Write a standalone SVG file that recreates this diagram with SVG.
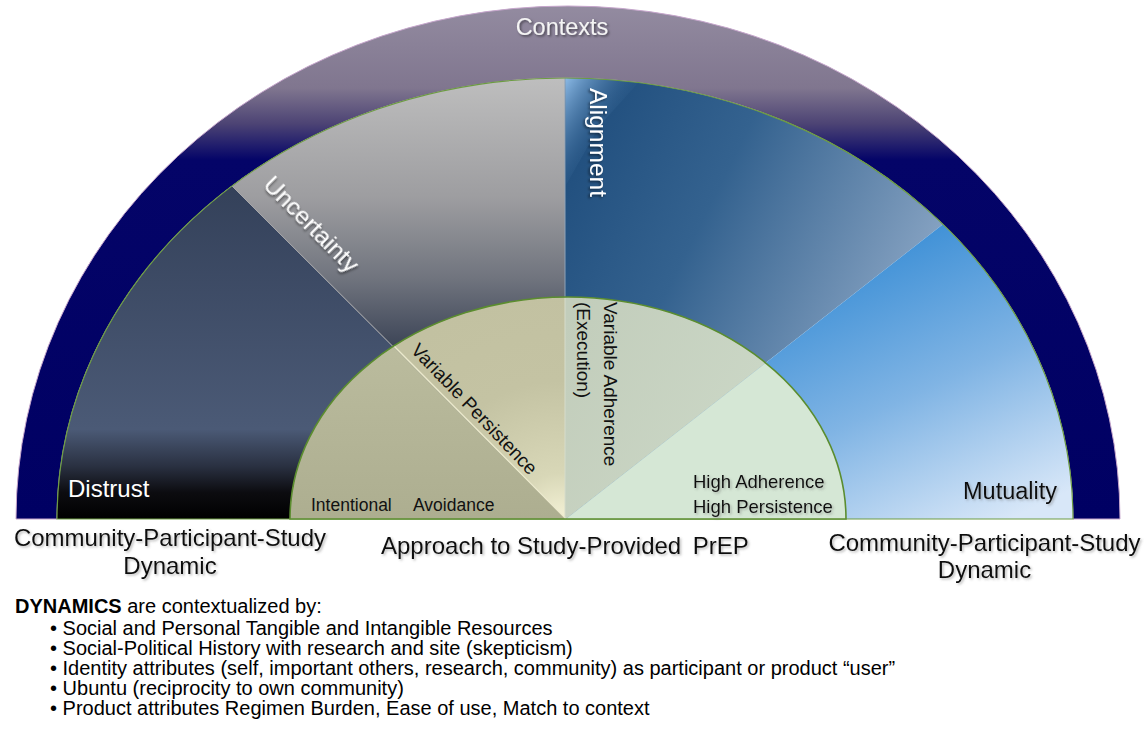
<svg xmlns="http://www.w3.org/2000/svg" width="1148" height="730" viewBox="0 0 1148 730">
<style>
  text { font-family: "Liberation Sans", Arial, Helvetica, sans-serif; }
  .w { fill: #ffffff; }
  .k { fill: #111111; }
  .lbl { font-size: 24px; fill: #111111; }
  .body { font-size: 20px; fill: #000000; }
  .inner { font-size: 19px; fill: #111111; }
</style>
<defs>
  <linearGradient id="gBand" gradientUnits="userSpaceOnUse" x1="0" y1="6" x2="0" y2="519">
    <stop offset="0" stop-color="#938ba0"/>
    <stop offset="0.16" stop-color="#80768f"/>
    <stop offset="0.23" stop-color="#4c4374"/>
    <stop offset="0.30" stop-color="#040468"/>
    <stop offset="1" stop-color="#000063"/>
  </linearGradient>
  <linearGradient id="gDistrust" gradientUnits="userSpaceOnUse" x1="0" y1="187" x2="0" y2="519">
    <stop offset="0" stop-color="#34415a"/>
    <stop offset="0.73" stop-color="#4b5a76"/>
    <stop offset="0.84" stop-color="#2a3142"/>
    <stop offset="0.92" stop-color="#0c0c10"/>
    <stop offset="1" stop-color="#000000"/>
  </linearGradient>
  <linearGradient id="gUncert" gradientUnits="userSpaceOnUse" x1="0" y1="78" x2="0" y2="345">
    <stop offset="0" stop-color="#bebebe"/>
    <stop offset="0.45" stop-color="#9d9da0"/>
    <stop offset="0.75" stop-color="#70747e"/>
    <stop offset="1" stop-color="#3e4658"/>
  </linearGradient>
  <linearGradient id="gAlign" gradientUnits="userSpaceOnUse" x1="580" y1="150" x2="940" y2="330">
    <stop offset="0" stop-color="#22507f"/>
    <stop offset="0.35" stop-color="#34628f"/>
    <stop offset="1" stop-color="#95aecb"/>
  </linearGradient>
  <linearGradient id="gHi" gradientUnits="userSpaceOnUse" x1="565" y1="80" x2="625" y2="120">
    <stop offset="0" stop-color="#8fbde9" stop-opacity="0.95"/>
    <stop offset="1" stop-color="#2a5a8a" stop-opacity="0"/>
  </linearGradient>
  <linearGradient id="gMutual" gradientUnits="userSpaceOnUse" x1="880" y1="240" x2="1010" y2="519">
    <stop offset="0" stop-color="#3c8fd6"/>
    <stop offset="0.5" stop-color="#80b4e4"/>
    <stop offset="1" stop-color="#d8e7f8"/>
  </linearGradient>
  <linearGradient id="gIA" gradientUnits="userSpaceOnUse" x1="0" y1="330" x2="0" y2="519">
    <stop offset="0" stop-color="#bcbd9f"/>
    <stop offset="1" stop-color="#adae90"/>
  </linearGradient>
  <radialGradient id="gVP" gradientUnits="userSpaceOnUse" cx="560" cy="519" r="230">
    <stop offset="0" stop-color="#f4f2d6"/>
    <stop offset="0.2" stop-color="#d8d7b7"/>
    <stop offset="0.6" stop-color="#c4c3a3"/>
    <stop offset="1" stop-color="#c2c1a1"/>
  </radialGradient>
  <linearGradient id="gVA" gradientUnits="userSpaceOnUse" x1="565" y1="320" x2="760" y2="420">
    <stop offset="0" stop-color="#c2cdbb"/>
    <stop offset="1" stop-color="#cbd7c6"/>
  </linearGradient>
  <clipPath id="clipI"><path d="M57,519 A508,441 0 0 1 1073,519 Z"/></clipPath>
  <clipPath id="clipS"><path d="M290,519 A278,222 0 0 1 846,519 Z"/></clipPath>
  <filter id="sh" x="-10%" y="-40%" width="130%" height="190%">
    <feDropShadow dx="1.5" dy="1.5" stdDeviation="1" flood-color="#000000" flood-opacity="0.5"/>
  </filter>
  <filter id="shl" x="-10%" y="-40%" width="130%" height="190%">
    <feDropShadow dx="1.5" dy="1.5" stdDeviation="1.2" flood-color="#666666" flood-opacity="0.45"/>
  </filter>
</defs>

<g id="contexts-band">
  <path d="M16,519 A552,513 0 0 1 1120,519 L1073,519 A508,441 0 0 0 57,519 Z" fill="url(#gBand)" stroke="#c6a6cc" stroke-width="1"/>
  <text x="562" y="35" text-anchor="middle" font-size="23.5" fill="#f4f4f4" filter="url(#sh)">Contexts</text>
</g>

<g id="dynamics-sectors" clip-path="url(#clipI)">
  <g id="distrust">
    <path d="M566,519 L-200,519 L-200,-145 L-100,-145 Z" fill="url(#gDistrust)"/>
  </g>
  <g id="uncertainty">
    <path d="M566,519 L-100,-145 L565,-145 L565,519 Z" fill="url(#gUncert)"/>
  </g>
  <g id="alignment">
    <path d="M565,519 L565,-145 L1318,-145 L1318,-69 L566,519 Z" fill="url(#gAlign)"/>
    <path d="M565,70 L650,70 L600,125 L566,185 Z" fill="url(#gHi)"/>
  </g>
  <g id="mutuality">
    <path d="M566,519 L1318,-69 L1400,-69 L1400,519 Z" fill="url(#gMutual)"/>
  </g>
  <line x1="566" y1="519" x2="233" y2="187" stroke="#a8a8aa" stroke-width="1"/>
  <line x1="565" y1="519" x2="565" y2="78" stroke="#8fa3b8" stroke-width="1"/>
</g>
<path d="M57,519 A508,441 0 0 1 1073,519 Z" fill="none" stroke="#6c9c42" stroke-width="1.2"/>

<g id="approach-sectors">
  <g clip-path="url(#clipS)">
    <path d="M566,519 L-200,519 L-200,-145 L-100,-145 Z" fill="url(#gIA)"/>
    <path d="M566,519 L-100,-145 L565,-145 L565,519 Z" fill="url(#gVP)"/>
    <path d="M565,519 L565,-145 L1318,-145 L1318,-69 L566,519 Z" fill="url(#gVA)"/>
    <path d="M566,519 L1318,-69 L1400,-69 L1400,519 Z" fill="#d5e7d5"/>
    <line x1="566" y1="519" x2="393" y2="345" stroke="#ebe9cd" stroke-width="1.2"/>
    <line x1="565" y1="519" x2="565" y2="297" stroke="#d6dccb" stroke-width="1"/>
  </g>
  <path d="M290,519 A278,222 0 0 1 846,519 Z" fill="none" stroke="#5b8d2f" stroke-width="1.6"/>
</g>

<g id="sector-labels">
  <text class="w" font-size="24.5" transform="translate(590,88) rotate(90)" filter="url(#sh)">Alignment</text>
  <text class="w" font-size="24.5" transform="translate(262,186) rotate(45.3)" filter="url(#sh)">Uncertainty</text>
  <text class="w" font-size="24" x="68" y="497">Distrust</text>
  <text class="k" font-size="23.5" x="963" y="499" filter="url(#shl)">Mutuality</text>
  <text class="k" font-size="17.5" x="311" y="511">Intentional<tspan x="413">Avoidance</tspan></text>
  <text class="inner" transform="translate(410,351) rotate(46.3)">Variable Persistence</text>
  <text class="inner" transform="translate(604,302) rotate(90)">Variable Adherence</text>
  <text class="inner" transform="translate(577,302) rotate(90)">(Execution)</text>
  <text class="k" font-size="18.5" x="693" y="488" filter="url(#shl)">High Adherence</text>
  <text class="k" font-size="18.5" x="693" y="513" filter="url(#shl)">High Persistence</text>
</g>

<g id="axis-labels">
  <text class="lbl" x="170" y="546" text-anchor="middle" filter="url(#shl)">Community-Participant-Study</text>
  <text class="lbl" x="170" y="574" text-anchor="middle" filter="url(#shl)">Dynamic</text>
  <text class="lbl" x="381" y="554" filter="url(#shl)">Approach to Study-Provided <tspan dx="5">PrEP</tspan></text>
  <text class="lbl" x="984.5" y="551" text-anchor="middle" filter="url(#shl)">Community-Participant-Study</text>
  <text class="lbl" x="984.5" y="578" text-anchor="middle" filter="url(#shl)">Dynamic</text>
</g>

<g id="notes">
  <text class="body" x="15" y="613"><tspan font-weight="bold">DYNAMICS</tspan> are contextualized by:</text>
  <text class="body" x="50" y="635">• Social and Personal Tangible and Intangible Resources</text>
  <text class="body" x="50" y="655">• Social-Political History with research and site (skepticism)</text>
  <text class="body" x="50" y="675">• Identity attributes (self, important others, research, community) as participant or product “user”</text>
  <text class="body" x="50" y="695">• Ubuntu (reciprocity to own community)</text>
  <text class="body" x="50" y="715">• Product attributes Regimen Burden, Ease of use, Match to context</text>
</g>
</svg>
